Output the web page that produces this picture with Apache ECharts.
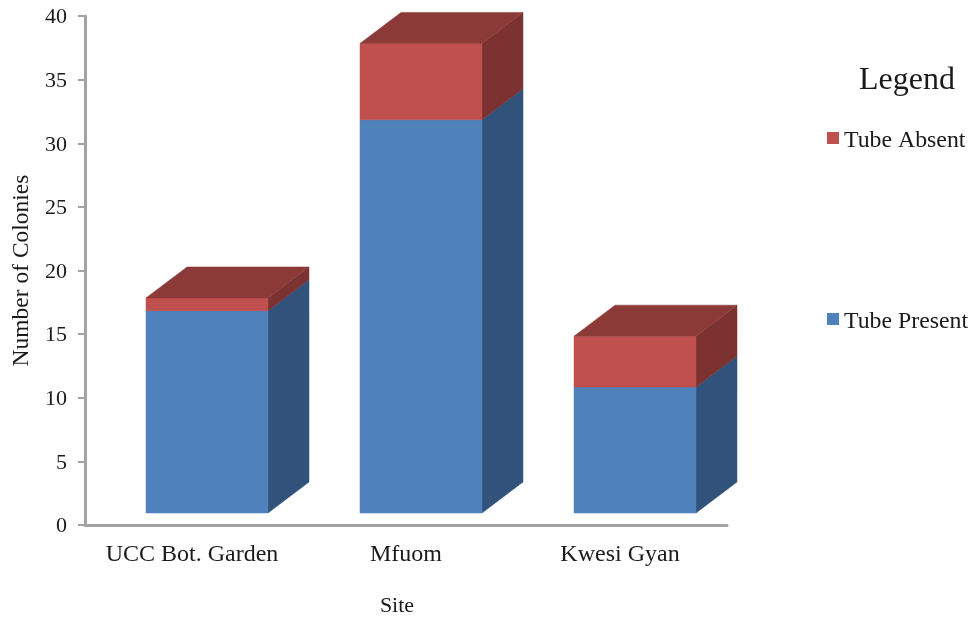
<!DOCTYPE html>
<html>
<head>
<meta charset="utf-8">
<style>html,body{margin:0;padding:0;background:#fff}#main{width:978px;height:618px}</style>
<script src="https://cdn.jsdelivr.net/npm/echarts@6/dist/echarts.min.js"></script>
</head>
<body>
<div id="main"></div>
<script>
// Colony counts per collection site
const categories = ['UCC Bot. Garden', 'Mfuom', 'Kwesi Gyan'];
const tubePresent = [17, 32, 11];
const tubeAbsent = [1, 6, 4];

const FONT = '"Liberation Serif", "Times New Roman", serif';
const TEXT = '#1a1a1a';
const AXIS = '#a3a3a3';

// Box projection: the front face sits right of the band centre and the
// depth runs up and to the right.
const DEPTH_X = 41, DEPTH_Y = 31, SHIFT_X = 15, SHIFT_Y = 2, FLOOR = 12, BAR_RATIO = 0.57;

function boxItem(front, side, top, withTop) {
  return function (params, api) {
    const cat = api.value(0);
    const w = api.size([1, 0])[0] * BAR_RATIO;
    const cx = api.coord([cat, 0])[0] + SHIFT_X;
    const zero = api.coord([cat, 0])[1];
    const lo = api.value(1) === 0 ? zero - FLOOR : api.coord([cat, api.value(1)])[1] + SHIFT_Y;
    const hi = api.coord([cat, api.value(2)])[1] + SHIFT_Y;
    const l = cx - w / 2, r = cx + w / 2;
    const poly = (points, fill) => ({
      type: 'polygon',
      shape: { points },
      style: { fill, stroke: fill, lineWidth: 0.5 }
    });
    const children = [
      poly([[r, lo], [r + DEPTH_X, lo - DEPTH_Y], [r + DEPTH_X, hi - DEPTH_Y], [r, hi]], side),
      poly([[l, lo], [r, lo], [r, hi], [l, hi]], front)
    ];
    if (withTop) {
      children.push(poly([[l, hi], [r, hi], [r + DEPTH_X, hi - DEPTH_Y], [l + DEPTH_X, hi - DEPTH_Y]], top));
    }
    return { type: 'group', children };
  };
}

const chart = echarts.init(document.getElementById('main'), null, { renderer: 'canvas' });
chart.setOption({
  animation: false,
  backgroundColor: '#ffffff',
  color: ['#4F81BD', '#C0504D'],
  title: {
    text: 'Legend',
    left: 854,
    top: 60,
    textStyle: { fontFamily: FONT, fontSize: 32, fontWeight: 'normal', color: TEXT }
  },
  legend: {
    orient: 'vertical',
    left: 822,
    top: 124,
    data: ['Tube Absent', 'Tube Present'],
    icon: 'rect',
    itemWidth: 12,
    itemHeight: 12,
    itemGap: 157,
    formatter: '{label|{name}}',
    textStyle: {
      rich: {
        label: { fontFamily: FONT, fontSize: 23.8, color: TEXT, padding: [6, 0, 0, 0], verticalAlign: 'bottom' }
      }
    }
  },
  grid: { left: 85, right: 251, top: 16, bottom: 93, outerBoundsMode: 'none' },
  xAxis: {
    type: 'category',
    data: categories,
    name: 'Site',
    nameLocation: 'middle',
    nameGap: 70,
    nameTextStyle: { fontFamily: FONT, fontSize: 22, color: TEXT, padding: [0, 18, 0, 0] },
    axisLine: { lineStyle: { color: AXIS, width: 3 } },
    axisTick: { show: false },
    axisLabel: { interval: 0, fontFamily: FONT, fontSize: 24, color: TEXT, margin: 18 }
  },
  yAxis: {
    type: 'value',
    min: 0,
    max: 40,
    interval: 5,
    name: 'Number of Colonies',
    nameLocation: 'middle',
    nameGap: 51,
    nameTextStyle: { fontFamily: FONT, fontSize: 23.5, color: TEXT },
    axisLine: { show: true, lineStyle: { color: AXIS, width: 3 } },
    axisTick: { show: true, length: 7, lineStyle: { color: AXIS, width: 2 } },
    axisLabel: {
      margin: 18,
      formatter: '{tick|{value}}',
      rich: {
        tick: { fontFamily: FONT, fontSize: 22, color: TEXT, padding: [3, 0, 0, 0], verticalAlign: 'bottom' }
      }
    },
    splitLine: { show: false }
  },
  series: [
    {
      name: 'Tube Present',
      type: 'custom',
      renderItem: boxItem('#4F81BD', '#31527A', '#31527A', false),
      itemStyle: { color: '#4F81BD' },
      encode: { x: 0, y: 2 },
      data: tubePresent.map((v, i) => [i, 0, v])
    },
    {
      name: 'Tube Absent',
      type: 'custom',
      renderItem: boxItem('#C0504D', '#7B3230', '#8C3A38', true),
      itemStyle: { color: '#C0504D' },
      encode: { x: 0, y: 2 },
      data: tubeAbsent.map((v, i) => [i, tubePresent[i], tubePresent[i] + v])
    }
  ]
});
</script>
</body>
</html>
